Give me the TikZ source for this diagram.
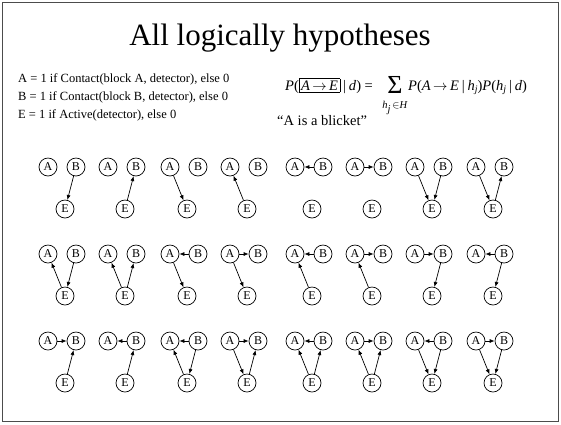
\documentclass[tikz,border=0pt]{standalone}
\usepackage{fontspec}
\setmainfont{Liberation Serif}
\usetikzlibrary{arrows.meta}
\newcommand{\myarr}{\,$\rightarrow$\,}
\newcommand{\mybar}{\hspace{0.2em}|\hspace{0.2em}}
\begin{document}
\begin{tikzpicture}[x=1pt,y=-1pt,
  vnode/.style={circle,draw,line width=0.7pt,minimum size=18pt,inner sep=0pt,font=\fontsize{12}{12}\selectfont},
  edge/.style={-{Latex[length=5pt,width=4pt]},line width=0.7pt},
  deftext/.style={anchor=west,inner sep=0pt,font=\fontsize{12.5}{13}\selectfont},
  frm/.style={inner sep=0pt,font=\fontsize{14.5}{14.5}\selectfont}]
\useasboundingbox (0,0) rectangle (561,424);
\draw[line width=0.8pt,black!70] (2.5,2.5) rectangle (558.5,421.5);
\node[font=\fontsize{31}{31}\selectfont,inner sep=0pt] (title) at (280,38) {All logically hypotheses};
\node[deftext] (defA) at (18,79) {A = 1 if Contact(block A, detector), else 0};
\node[deftext] (defB) at (18,97) {B = 1 if Contact(block B, detector), else 0};
\node[deftext] (defE) at (18,115) {E = 1 if Active(detector), else 0};
% formula
\node[frm,anchor=base west] (lhs) at (285,90) {\textit{P}(\setlength{\fboxsep}{1.5pt}\setlength{\fboxrule}{0.7pt}\fbox{\textit{A}\myarr\textit{E}}\mybar\textit{d}) =};
\node[inner sep=0pt,anchor=base,font=\fontsize{26}{26}\selectfont] (sum) at (395,93) {Σ};
\node[inner sep=0pt,anchor=north,font=\fontsize{10.5}{10.5}\selectfont] (sub) at (395,101) {\textit{h}\raisebox{-4pt}{\textit{j}}\,$\in$\textit{H}};
\node[frm,anchor=base west] (rhs) at (408,90) {\textit{P}(\textit{A}\myarr\textit{E}\mybar\textit{h}\raisebox{-2.5pt}{\fontsize{10}{10}\selectfont\textit{j}})\textit{P}(\textit{h}\raisebox{-2.5pt}{\fontsize{10}{10}\selectfont\textit{j}}\mybar\textit{d})};
\node[anchor=west,inner sep=0pt,font=\fontsize{14.5}{14.5}\selectfont] (blicket) at (277,121) {“A is a blicket”};
% graphs
\foreach \c/\x in {1/65,2/125,3/187,4/247,5/312,6/372,7/432,8/493}{
  \foreach \r/\y in {1/167,2/254,3/341}{
    \node[vnode] (a\r\c) at (\x-17,\y) {A};
    \node[vnode] (b\r\c) at (\x+11,\y) {B};
    \node[vnode] (e\r\c) at (\x,\y+42) {E};
  }
}
% row 1
\draw[edge] (b11) -- (e11);
\draw[edge] (e12) -- (b12);
\draw[edge] (a13) -- (e13);
\draw[edge] (e14) -- (a14);
\draw[edge] (b15) -- (a15);
\draw[edge] (a16) -- (b16);
\draw[edge] (a17) -- (e17); \draw[edge] (b17) -- (e17);
\draw[edge] (a18) -- (e18); \draw[edge] (e18) -- (b18);
% row 2
\draw[edge] (e21) -- (a21); \draw[edge] (b21) -- (e21);
\draw[edge] (e22) -- (a22); \draw[edge] (e22) -- (b22);
\draw[edge] (b23) -- (a23); \draw[edge] (a23) -- (e23);
\draw[edge] (a24) -- (b24); \draw[edge] (a24) -- (e24);
\draw[edge] (b25) -- (a25); \draw[edge] (e25) -- (a25);
\draw[edge] (a26) -- (b26); \draw[edge] (e26) -- (a26);
\draw[edge] (a27) -- (b27); \draw[edge] (b27) -- (e27);
\draw[edge] (b28) -- (a28); \draw[edge] (b28) -- (e28);
% row 3
\draw[edge] (a31) -- (b31); \draw[edge] (e31) -- (b31);
\draw[edge] (b32) -- (a32); \draw[edge] (e32) -- (b32);
\draw[edge] (b33) -- (a33); \draw[edge] (e33) -- (a33); \draw[edge] (b33) -- (e33);
\draw[edge] (a34) -- (b34); \draw[edge] (a34) -- (e34); \draw[edge] (e34) -- (b34);
\draw[edge] (b35) -- (a35); \draw[edge] (e35) -- (a35); \draw[edge] (e35) -- (b35);
\draw[edge] (a36) -- (b36); \draw[edge] (e36) -- (a36); \draw[edge] (e36) -- (b36);
\draw[edge] (b37) -- (a37); \draw[edge] (a37) -- (e37); \draw[edge] (b37) -- (e37);
\draw[edge] (a38) -- (b38); \draw[edge] (a38) -- (e38); \draw[edge] (b38) -- (e38);
\end{tikzpicture}
\end{document}
